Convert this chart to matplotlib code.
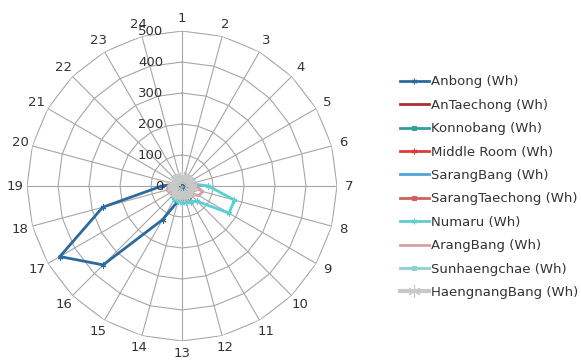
import numpy as np
import matplotlib
matplotlib.use("Agg")
import matplotlib.pyplot as plt
from matplotlib.transforms import ScaledTranslation

plt.rcParams['font.family'] = ['DejaVu Sans']

hours = [str(h) for h in range(1, 25)]
r_ticks = [0, 100, 200, 300, 400, 500]

anbong        = [15, 15, 15, 15, 15, 15, 15, 15, 15, 15, 15, 20, 30, 50, 125, 360, 455, 265, 65, 25, 15, 15, 15, 15]
antaechong    = [18, 18, 18, 18, 18, 18, 20, 20, 22, 22, 22, 22, 22, 22, 22, 22, 22, 22, 20, 20, 18, 18, 18, 18]
konnobang     = [20, 20, 20, 20, 20, 20, 22, 22, 22, 24, 24, 24, 24, 24, 24, 24, 24, 22, 22, 20, 20, 20, 20, 20]
middle_room   = [22, 22, 22, 22, 22, 24, 26, 28, 30, 32, 35, 38, 35, 38, 35, 32, 30, 32, 30, 26, 24, 22, 22, 22]
sarangbang    = [24, 24, 24, 24, 24, 25, 26, 27, 28, 28, 28, 28, 28, 28, 28, 28, 28, 28, 27, 26, 25, 24, 24, 24]
sarangtaech   = [22, 22, 22, 22, 22, 24, 28, 32, 35, 38, 42, 45, 40, 45, 40, 42, 38, 42, 38, 30, 25, 22, 22, 22]
numaru        = [22, 22, 22, 22, 25, 30, 85, 175, 175, 70, 58, 53, 55, 50, 52, 42, 32, 28, 25, 22, 22, 22, 22, 22]
arangbang     = [25, 25, 25, 25, 28, 32, 45, 70, 62, 35, 30, 28, 28, 28, 30, 35, 45, 50, 45, 30, 25, 25, 25, 25]
sunhaengchae  = [26, 26, 26, 26, 26, 27, 28, 30, 30, 30, 32, 32, 32, 32, 32, 30, 30, 30, 28, 28, 26, 26, 26, 26]
haengnang     = [28, 28, 28, 28, 28, 28, 30, 30, 30, 30, 30, 30, 30, 30, 30, 30, 30, 30, 30, 30, 28, 28, 28, 28]

series = [
    ("Anbong (Wh)", anbong, "#2B6A9F", (6, 2, 0), 2.0, 4),
    ("AnTaechong (Wh)", antaechong, "#A8302F", None, 2.0, 0),
    ("Konnobang (Wh)", konnobang, "#2FA09A", "s", 2.0, 3),
    ("Middle Room (Wh)", middle_room, "#E03B3B", (6, 2, 0), 2.0, 4),
    ("SarangBang (Wh)", sarangbang, "#4AA5DC", None, 2.0, 0),
    ("SarangTaechong (Wh)", sarangtaech, "#D0605C", "s", 2.0, 3),
    ("Numaru (Wh)", numaru, "#5BCFD4", (6, 2, 0), 2.0, 4),
    ("ArangBang (Wh)", arangbang, "#D9A0A4", None, 2.0, 0),
    ("Sunhaengchae (Wh)", sunhaengchae, "#8FCFCF", "s", 2.0, 3),
    ("HaengnangBang (Wh)", haengnang, "#C8C8C8", (6, 2, 0), 3.0, 9),
]

fig = plt.figure(figsize=(5.81, 3.60), dpi=100)
ax = fig.add_axes([0.0465, 0.0528, 0.5336, 0.861], projection='polar')
ax.set_theta_zero_location('N')
ax.set_theta_direction(-1)

n = len(hours)
theta = np.arange(n) * 2 * np.pi / n
theta_c = np.append(theta, theta[0])

grid_col = "#A6A6A6"
ax.set_ylim(0, r_ticks[-1])
ax.set_yticks(r_ticks)
ax.set_yticklabels([])
ax.yaxis.grid(False)
ax.set_xticks(theta)
ax.set_xticklabels(hours, fontsize=9.5, color="#333333")
ax.xaxis.grid(True, color=grid_col, lw=0.8)
ax.tick_params(axis='x', pad=-1.5)
ax.spines['polar'].set_visible(False)

for r in r_ticks[1:]:
    ax.plot(theta_c, [r] * (n + 1), color=grid_col, lw=0.8, zorder=0.5)

off = ScaledTranslation(-19 / 100, 0, fig.dpi_scale_trans)
for r in r_ticks:
    ax.text(0, r, str(r), transform=ax.transData + off, ha='right', va='center',
            fontsize=9.5, color="#333333")

for label, vals, col, mk, lw, ms in series:
    v = np.append(vals, vals[0])
    ax.plot(theta_c, v, color=col, lw=lw, marker=mk, ms=ms, mew=0.8,
            label=label, zorder=2)

fig.legend(loc='center left', bbox_to_anchor=(0.688, 0.48), frameon=False,
           fontsize=9.5, handlelength=2.2, handletextpad=0.15,
           labelspacing=0.79, borderpad=0, borderaxespad=0,
           labelcolor="#333333")

fig.savefig("out.png", dpi=100)
